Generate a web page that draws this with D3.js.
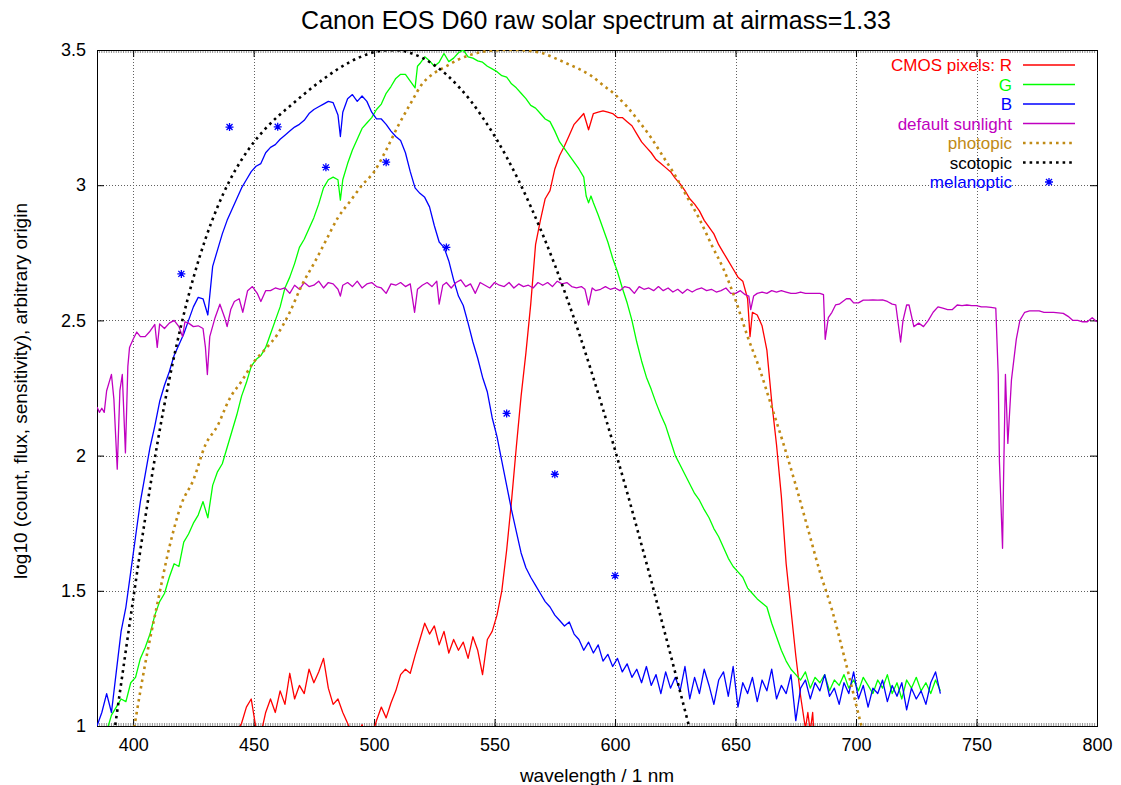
<!DOCTYPE html>
<html><head><meta charset="utf-8">
<script src="https://cdn.jsdelivr.net/npm/d3@7"></script>
<style>body{margin:0;background:#fff}svg text{font-family:"Liberation Sans",Arial,sans-serif}</style>
</head><body>
<svg id="c" width="1121" height="785"></svg>
<script>
const xTicks=[400,450,500,550,600,650,700,750,800];
const yTicks=[1,1.5,2,2.5,3,3.5];
const seriesNames=["CMOS pixels: R","G","B","default sunlight","photopic","scotopic","melanoptic"];
const seriesColors=["#ff0000","#00ff00","#0000ff","#c000c0","#c08a14","#000000","#0000ff"];

const redData=[[443,0.98],[445,1.01],[447,1.07],[449,1.1],[451,0.99],[453,0.97],[455,1.05],[457,1.1],[459,1.05],[461,1.13],[463,1.08],[465,1.195],[467,1.1],[469,1.15],[471,1.12],[473,1.21],[475,1.16],[477,1.2],[479,1.25],[481,1.14],[483,1.08],[485,1.1],[487,1.05],[489,1.01],[491,0.97],[493,0.95],[495,1.005],[497,0.94],[499,0.96],[501,1.02],[503,1.07],[505,1.03],[507,1.085],[509,1.13],[511,1.19],[513,1.21],[515,1.195],[517,1.26],[519,1.32],[521,1.38],[523,1.34],[525,1.37],[527,1.3],[529,1.35],[531,1.27],[533,1.32],[535,1.28],[537,1.31],[539,1.25],[541,1.33],[543,1.28],[545,1.19],[547,1.32],[549,1.35],[551,1.41],[553,1.5],[555,1.65],[557,1.83],[559,2.03],[561,2.22],[563,2.38],[565,2.56],[567,2.78],[569,2.87],[571,2.95],[573,2.98],[575,3.06],[577,3.11],[579,3.145],[581,3.185],[583,3.225],[585,3.245],[587,3.265],[589,3.205],[591,3.265],[593,3.27],[595,3.275],[597,3.27],[599,3.265],[601,3.25],[603,3.25],[605,3.235],[607,3.22],[609,3.19],[611,3.16],[613,3.14],[615,3.12],[617,3.095],[619,3.08],[621,3.065],[623,3.05],[625,3.025],[627,3.005],[629,2.98],[631,2.95],[633,2.93],[635,2.905],[637,2.87],[639,2.845],[641,2.82],[643,2.78],[645,2.75],[647,2.72],[649,2.69],[651,2.66],[653,2.645],[655,2.58],[656,2.44],[657,2.53],[659,2.52],[661,2.48],[663,2.39],[665,2.2],[667,2.04],[669,1.85],[671,1.6],[673,1.43],[675,1.26],[677,1.11],[679,0.99],[680,1.05],[681,0.98],[682,1.05],[683,0.9]];

const greenData=[[389,0.98],[391,1.04],[393,1.07],[395,1.1],[397,1.09],[399,1.16],[401,1.18],[403,1.25],[405,1.29],[407,1.34],[409,1.41],[411,1.46],[413,1.49],[415,1.55],[417,1.6],[419,1.59],[421,1.68],[423,1.71],[425,1.75],[427,1.78],[429,1.83],[431,1.77],[433,1.89],[435,1.94],[437,1.97],[439,2.03],[441,2.09],[443,2.15],[445,2.22],[447,2.27],[449,2.33],[451,2.355],[453,2.37],[455,2.4],[457,2.45],[459,2.5],[461,2.55],[463,2.62],[465,2.66],[467,2.71],[469,2.77],[471,2.8],[473,2.84],[475,2.88],[477,2.93],[479,2.99],[481,3.02],[483,3.03],[485,3.02],[486,2.945],[487,3.02],[489,3.08],[491,3.13],[493,3.17],[495,3.21],[497,3.23],[499,3.25],[501,3.28],[503,3.3],[505,3.34],[507,3.365],[509,3.395],[511,3.41],[513,3.41],[515,3.385],[517,3.36],[518,3.44],[519,3.45],[521,3.475],[523,3.46],[525,3.44],[527,3.455],[529,3.487],[531,3.457],[533,3.47],[535,3.49],[537,3.5],[539,3.475],[541,3.47],[543,3.46],[545,3.455],[547,3.44],[549,3.43],[551,3.42],[553,3.405],[555,3.4],[557,3.375],[559,3.36],[561,3.34],[563,3.32],[565,3.295],[567,3.285],[569,3.265],[571,3.245],[573,3.235],[575,3.2],[577,3.16],[579,3.135],[581,3.11],[583,3.085],[585,3.06],[587,3.03],[588,2.96],[589,2.935],[590,2.96],[591,2.935],[593,2.89],[595,2.84],[597,2.79],[599,2.73],[601,2.68],[603,2.62],[605,2.565],[607,2.5],[609,2.42],[611,2.35],[613,2.29],[615,2.245],[617,2.195],[619,2.15],[621,2.11],[623,2.055],[625,2.0],[627,1.965],[629,1.93],[631,1.895],[633,1.86],[635,1.835],[637,1.8],[639,1.77],[641,1.73],[643,1.7],[645,1.66],[647,1.62],[649,1.59],[651,1.57],[653,1.55],[655,1.51],[657,1.49],[659,1.47],[661,1.455],[663,1.44],[665,1.38],[667,1.33],[669,1.28],[671,1.24],[673,1.21],[675,1.19],[677,1.17],[679,1.2],[681,1.14],[683,1.18],[685,1.16],[687,1.19],[689,1.13],[691,1.17],[693,1.15],[695,1.19],[697,1.14],[699,1.17],[701,1.13],[703,1.18],[705,1.15],[707,1.12],[709,1.17],[711,1.14],[713,1.19],[715,1.12],[717,1.16],[719,1.1],[721,1.17],[723,1.14],[725,1.18],[727,1.13],[729,1.16],[731,1.12],[733,1.17],[735,1.13]];

const blueData=[[385,1.0],[387,1.05],[389,1.12],[391,1.05],[393,1.2],[395,1.35],[397,1.44],[399,1.57],[401,1.7],[403,1.83],[405,1.93],[407,2.03],[409,2.11],[411,2.2],[413,2.26],[415,2.31],[417,2.37],[419,2.41],[421,2.45],[423,2.5],[425,2.55],[427,2.585],[429,2.58],[431,2.52],[433,2.7],[435,2.76],[437,2.82],[439,2.87],[441,2.91],[443,2.95],[445,2.99],[447,3.02],[449,3.05],[451,3.07],[453,3.08],[455,3.12],[457,3.14],[459,3.15],[461,3.17],[463,3.185],[465,3.2],[467,3.215],[469,3.225],[471,3.24],[473,3.265],[475,3.28],[477,3.29],[479,3.3],[481,3.31],[483,3.305],[485,3.26],[486,3.18],[487,3.27],[489,3.32],[491,3.335],[493,3.31],[495,3.33],[497,3.31],[499,3.27],[501,3.245],[503,3.245],[505,3.225],[507,3.2],[509,3.18],[511,3.165],[513,3.12],[515,3.05],[517,2.99],[519,2.97],[521,2.955],[523,2.92],[525,2.85],[527,2.79],[529,2.77],[531,2.72],[533,2.65],[535,2.59],[537,2.555],[539,2.49],[541,2.42],[543,2.36],[545,2.29],[547,2.235],[549,2.14],[551,2.07],[553,1.98],[555,1.89],[557,1.8],[559,1.72],[561,1.64],[563,1.585],[565,1.55],[567,1.52],[569,1.49],[571,1.46],[573,1.44],[575,1.41],[577,1.39],[579,1.37],[581,1.385],[583,1.34],[585,1.32],[587,1.28],[589,1.31],[591,1.27],[593,1.3],[595,1.24],[597,1.265],[599,1.22],[601,1.25],[603,1.2],[605,1.23],[607,1.18],[609,1.21],[611,1.16],[613,1.22],[615,1.15],[617,1.19],[619,1.12],[621,1.2],[623,1.14],[625,1.18],[627,1.13],[629,1.22],[631,1.1],[633,1.18],[635,1.12],[637,1.21],[639,1.15],[641,1.08],[643,1.17],[645,1.2],[647,1.11],[649,1.22],[651,1.07],[653,1.16],[655,1.12],[657,1.18],[659,1.09],[661,1.17],[663,1.13],[665,1.21],[667,1.1],[669,1.15],[671,1.12],[673,1.19],[675,1.02],[677,1.14],[679,1.17],[681,1.1],[683,1.16],[685,1.13],[687,1.19],[689,1.11],[691,1.14],[693,1.08],[695,1.16],[697,1.12],[699,1.2],[701,1.1],[703,1.15],[705,1.07],[707,1.14],[709,1.12],[711,1.17],[713,1.09],[715,1.15],[717,1.11],[719,1.16],[721,1.06],[723,1.14],[725,1.1],[727,1.13],[729,1.08],[731,1.16],[733,1.2],[735,1.12]];

const sunData=[[385,2.18],[386,2.16],[387,2.175],[388,2.16],[389,2.24],[390,2.27],[391,2.3],[392,2.21],[393.4,1.95],[394.5,2.24],[395.5,2.3],[396.8,2.01],[397.8,2.33],[398.5,2.4],[400,2.43],[401.5,2.457],[403,2.44],[405,2.44],[407,2.46],[409,2.485],[410,2.4],[411,2.487],[413,2.47],[415,2.49],[417,2.5],[419,2.477],[420.5,2.44],[421.5,2.495],[423,2.49],[425,2.477],[427,2.48],[429,2.47],[430,2.4],[430.8,2.3],[431.8,2.44],[434,2.51],[436,2.56],[438,2.51],[439,2.477],[440.5,2.54],[442,2.57],[444,2.58],[445.5,2.53],[447.5,2.61],[449.5,2.625],[451.5,2.6],[453,2.57],[455,2.61],[457,2.61],[459,2.62],[461,2.615],[463,2.62],[465,2.6],[467,2.63],[469,2.615],[471,2.64],[473,2.625],[475,2.63],[477,2.645],[479,2.62],[481,2.64],[483,2.635],[485,2.615],[486,2.59],[487,2.63],[489,2.64],[491,2.625],[493,2.645],[495,2.62],[497,2.635],[499,2.64],[501,2.625],[503,2.62],[505,2.6],[507,2.635],[509,2.63],[511,2.64],[513,2.625],[515,2.635],[516.8,2.53],[518,2.615],[520,2.63],[522,2.64],[524,2.625],[526,2.645],[527,2.56],[528.5,2.63],[530,2.64],[532,2.62],[534,2.64],[536,2.65],[538,2.625],[540,2.635],[542,2.6],[544,2.64],[546,2.63],[548,2.62],[550,2.64],[552,2.63],[554,2.625],[556,2.64],[558,2.62],[560,2.635],[562,2.625],[564,2.63],[566,2.62],[568,2.64],[570,2.63],[572,2.64],[574,2.625],[576,2.645],[578,2.635],[580,2.64],[582,2.625],[584,2.62],[586,2.625],[587.5,2.615],[589,2.557],[590.5,2.62],[592,2.61],[594,2.615],[596,2.625],[598,2.615],[600,2.62],[602,2.61],[604,2.625],[606,2.62],[608,2.6],[610,2.625],[612,2.615],[614,2.62],[616,2.61],[618,2.625],[620,2.61],[622,2.62],[624,2.605],[626,2.615],[628,2.6],[630,2.615],[632,2.605],[634,2.615],[636,2.62],[638,2.61],[640,2.615],[642,2.605],[644,2.61],[646,2.62],[648,2.6],[650,2.6],[652,2.61],[654,2.595],[655.5,2.59],[656.3,2.54],[657.5,2.59],[659,2.6],[661,2.605],[663,2.6],[665,2.61],[667,2.605],[669,2.61],[671,2.605],[673,2.6],[675,2.6],[677,2.605],[679,2.6],[681,2.6],[683,2.6],[685,2.6],[686.5,2.595],[687.2,2.43],[688.5,2.51],[690,2.53],[691.5,2.557],[693,2.56],[694.5,2.57],[696,2.58],[697.5,2.58],[699,2.565],[701,2.565],[703,2.575],[705,2.575],[707,2.576],[709,2.575],[711,2.576],[713,2.57],[715,2.56],[716.5,2.557],[718.5,2.42],[719.5,2.5],[721,2.557],[722,2.557],[724,2.477],[726,2.49],[728,2.477],[730,2.5],[732,2.53],[734,2.55],[736,2.545],[738,2.54],[740,2.54],[742,2.557],[744,2.555],[746,2.557],[748,2.555],[750,2.555],[752,2.55],[754,2.55],[756,2.548],[758,2.545],[759,2.3],[759.5,1.98],[760.8,1.657],[761.2,1.9],[762,2.3],[763,2.045],[764.5,2.28],[766.5,2.43],[768,2.5],[770,2.53],[772,2.535],[774,2.535],[776,2.535],[778,2.53],[780,2.53],[782,2.53],[784,2.528],[786,2.526],[788,2.515],[790,2.5],[792,2.5],[794,2.495],[796,2.495],[798,2.51],[800,2.495]];

const photopicData=[[400,0.97],[405,1.23],[410,1.45],[415,1.66],[420,1.82],[425,1.91],[430,2.04],[435,2.11],[440,2.21],[445,2.275],[450,2.345],[455,2.395],[460,2.45],[465,2.53],[470,2.63],[475,2.71],[480,2.795],[485,2.88],[490,2.94],[495,3.0],[500,3.05],[505,3.13],[510,3.22],[515,3.3],[520,3.375],[525,3.415],[530,3.44],[535,3.465],[540,3.482],[545,3.493],[550,3.499],[555,3.5],[560,3.5],[565,3.496],[570,3.488],[575,3.47],[580,3.45],[585,3.43],[590,3.405],[595,3.37],[600,3.335],[605,3.29],[610,3.235],[615,3.175],[620,3.105],[625,3.035],[630,2.955],[635,2.875],[640,2.78],[645,2.69],[650,2.575],[655,2.44],[660,2.32],[665,2.18],[670,2.04],[675,1.89],[680,1.73],[685,1.57],[690,1.43],[695,1.26],[700,1.08],[705,0.9]];

const scotopicData=[[385,0.545],[390,0.844],[395,1.156],[400,1.468],[405,1.768],[410,2.042],[415,2.281],[420,2.485],[425,2.657],[430,2.801],[435,2.919],[440,3.016],[445,3.094],[450,3.158],[455,3.21],[460,3.254],[465,3.292],[470,3.33],[475,3.366],[480,3.399],[485,3.43],[490,3.456],[495,3.477],[500,3.492],[505,3.499],[510,3.499],[515,3.489],[520,3.471],[525,3.444],[530,3.409],[535,3.365],[540,3.313],[545,3.251],[550,3.182],[555,3.104],[560,3.017],[565,2.921],[570,2.817],[575,2.705],[580,2.583],[585,2.454],[590,2.316],[595,2.171],[600,2.02],[605,1.864],[610,1.702],[615,1.537],[620,1.367],[625,1.196],[630,1.023],[635,0.849]];

const melanopticData=[[420,2.672],[440,3.215],[460,3.216],[480,3.066],[505,3.085],[530,2.77],[555,2.156],[575,1.931],[600,1.556]];

const L=97,R=1097,T=50,B=726;
const svg=d3.select("#c");
const x=d3.scaleLinear().domain([385,800]).range([L,R]);
const y=d3.scaleLinear().domain([1,3.5]).range([B,T]);

// grid
const g=svg.append("g");
g.selectAll(".gx").data(xTicks.filter(t=>t<800)).enter().append("line")
 .attr("x1",d=>Math.round(x(d))+0.5).attr("x2",d=>Math.round(x(d))+0.5).attr("y1",T).attr("y2",B)
 .attr("stroke","#606060").attr("stroke-width",1).attr("stroke-dasharray","1,2");
g.selectAll(".gy").data(yTicks.filter(t=>t>1&&t<3.5)).enter().append("line")
 .attr("y1",d=>Math.round(y(d))+0.5).attr("y2",d=>Math.round(y(d))+0.5).attr("x1",L).attr("x2",R)
 .attr("stroke","#606060").attr("stroke-width",1).attr("stroke-dasharray","1,2");

// minor x ticks
const minor=d3.range(386,800,1);
g.selectAll(".mb").data(minor).enter().append("line")
 .attr("x1",d=>x(d)).attr("x2",d=>x(d)).attr("y1",B).attr("y2",B-3).attr("stroke","#777").attr("stroke-width",0.8);
g.selectAll(".mt").data(minor).enter().append("line")
 .attr("x1",d=>x(d)).attr("x2",d=>x(d)).attr("y1",T).attr("y2",T+3).attr("stroke","#777").attr("stroke-width",0.8);

// axes via d3
const ax=svg.append("g").attr("transform",`translate(0,${B})`).call(d3.axisBottom(x).tickValues(xTicks).tickSize(-7).tickPadding(12).tickFormat(d3.format("d")));
const axT=svg.append("g").attr("transform",`translate(0,${T})`).call(d3.axisTop(x).tickValues(xTicks).tickSize(-7).tickFormat(""));
const ay=svg.append("g").attr("transform",`translate(${L},0)`).call(d3.axisLeft(y).tickValues(yTicks).tickSize(-7).tickPadding(11).tickFormat(d=>d3.format("~g")(d)));
const ayR=svg.append("g").attr("transform",`translate(${R},0)`).call(d3.axisRight(y).tickValues(yTicks).tickSize(-7).tickFormat(""));
[ax,axT,ay,ayR].forEach(a=>{a.select(".domain").remove();a.selectAll("line").attr("stroke","#000");a.selectAll("text").attr("font-size",18).attr("fill","#000").attr("font-family","Liberation Sans, Arial, sans-serif");});

svg.append("rect").attr("x",L+0.5).attr("y",T+0.5).attr("width",R-L).attr("height",B-T).attr("fill","none").attr("stroke","#000").attr("stroke-width",1);

// clip
svg.append("clipPath").attr("id","clip").append("rect").attr("x",L).attr("y",T).attr("width",R-L).attr("height",B-T);
const plot=svg.append("g").attr("clip-path","url(#clip)");
const line=d3.line().x(d=>x(d[0])).y(d=>y(d[1]));
const solid=[redData,greenData,blueData,sunData];
solid.forEach((data,i)=>{
 plot.append("path").datum(data).attr("d",line).attr("fill","none").attr("stroke",seriesColors[i]).attr("stroke-width",1.3).attr("stroke-linejoin","round");
});
const lineC=d3.line().curve(d3.curveMonotoneX).x(d=>x(d[0])).y(d=>y(d[1]));
plot.append("path").datum(photopicData).attr("d",lineC).attr("fill","none").attr("stroke",seriesColors[4]).attr("stroke-width",2.6).attr("stroke-dasharray","2.6,4");
plot.append("path").datum(scotopicData).attr("d",lineC).attr("fill","none").attr("stroke",seriesColors[5]).attr("stroke-width",2.6).attr("stroke-dasharray","2.6,4");

const star=(sel,cx,cy,r,col)=>{
 const p=`M${cx-r},${cy}L${cx+r},${cy}M${cx},${cy-r}L${cx},${cy+r}M${cx-r*0.75},${cy-r*0.75}L${cx+r*0.75},${cy+r*0.75}M${cx-r*0.75},${cy+r*0.75}L${cx+r*0.75},${cy-r*0.75}`;
 sel.append("path").attr("d",p).attr("stroke",col).attr("stroke-width",1.3).attr("fill","none");
};
melanopticData.forEach(d=>star(plot,x(d[0]),y(d[1]),4,seriesColors[6]));

// legend
const leg=svg.append("g");
const rowY=[65,84.5,104,123.5,143,162.5,182];
seriesNames.forEach((n,i)=>{
 leg.append("text").attr("x",1012).attr("y",rowY[i]+6).attr("text-anchor","end").attr("font-size",17).attr("fill",seriesColors[i]).text(n);
 if(i<4){leg.append("line").attr("x1",1023).attr("x2",1075).attr("y1",rowY[i]).attr("y2",rowY[i]).attr("stroke",seriesColors[i]).attr("stroke-width",1.3);}
 else if(i<6){leg.append("line").attr("x1",1023).attr("x2",1075).attr("y1",rowY[i]).attr("y2",rowY[i]).attr("stroke",seriesColors[i]).attr("stroke-width",2.6).attr("stroke-dasharray","2.6,4");}
 else star(leg,1049,rowY[i],4,seriesColors[i]);
});

// titles
svg.append("text").attr("x",596).attr("y",29).attr("text-anchor","middle").attr("font-size",25).attr("fill","#000").text("Canon EOS D60 raw solar spectrum at airmass=1.33");
svg.append("text").attr("x",597).attr("y",782).attr("text-anchor","middle").attr("font-size",19).attr("fill","#000").text("wavelength / 1 nm");
svg.append("text").attr("transform","translate(27,391) rotate(-90)").attr("text-anchor","middle").attr("font-size",19).attr("fill","#000").text("log10 (count, flux, sensitivity), arbitrary origin");
</script>
</body></html>
